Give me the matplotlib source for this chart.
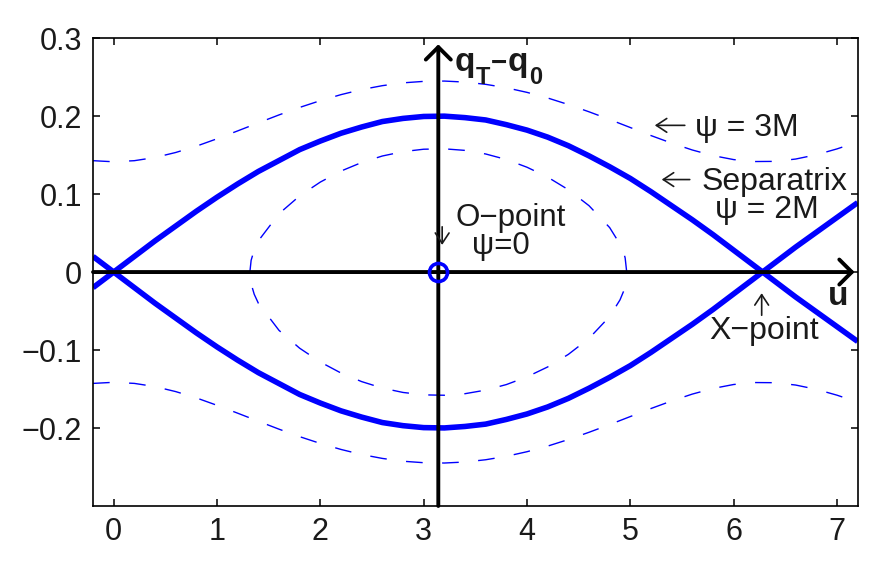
"""
Pendulum-like phase portrait: separatrix, O-point and X-point
"""

import matplotlib
matplotlib.use('Agg')
import matplotlib.pyplot as plt
import numpy as np

plt.rcParams['font.family'] = ['Liberation Sans', 'DejaVu Sans']

# ---- data ----
u_grid = [-0.2, 0.0, 0.2, 0.4, 0.6, 0.8, 1.0, 1.2, 1.4, 1.6, 1.8, 2.0,
          2.2, 2.4, 2.6, 2.8, 3.0, 3.2, 3.4, 3.6, 3.8, 4.0, 4.2, 4.4,
          4.6, 4.8, 5.0, 5.2, 5.4, 5.6, 5.8, 6.0, 6.2, 6.4, 6.6, 6.8,
          7.0, 7.2]

# separatrix (psi = 2M), upper branch; lower branch is its mirror
separatrix = [-0.020, 0.000, 0.020, 0.040, 0.059, 0.078, 0.096, 0.113,
              0.129, 0.143, 0.157, 0.168, 0.178, 0.186, 0.193, 0.197,
              0.1995, 0.1999, 0.198, 0.195, 0.189, 0.182, 0.173, 0.162,
              0.149, 0.135, 0.120, 0.103, 0.085, 0.067, 0.048, 0.028,
              0.008, -0.012, -0.032, -0.051, -0.070, -0.089]

# passing orbit (psi = 3M), upper side; lower side is its mirror
passing = [0.1428, 0.1414, 0.1428, 0.1469, 0.1533, 0.1614, 0.1709,
           0.1810, 0.1913, 0.2015, 0.2111, 0.2198, 0.2275, 0.2340,
           0.2390, 0.2426, 0.2445, 0.2449, 0.2436, 0.2407, 0.2363,
           0.2304, 0.2232, 0.2148, 0.2055, 0.1956, 0.1853, 0.1750,
           0.1653, 0.1565, 0.1493, 0.1442, 0.1417, 0.1419, 0.1449,
           0.1504, 0.1579, 0.1668]

# trapped orbit, upper half (closed curve, lower half mirrored)
u_trapped = [1.318, 1.33, 1.36, 1.4, 1.6, 1.8, 2.0, 2.2, 2.4, 2.6, 2.8,
             3.0, 3.2, 3.4, 3.6, 3.8, 4.0, 4.2, 4.4, 4.6, 4.8, 4.9,
             4.94, 4.95, 4.965]
trapped = [0.0, 0.015, 0.0285, 0.040, 0.0748, 0.0977, 0.1154, 0.1295,
           0.1405, 0.1488, 0.1544, 0.1575, 0.1580, 0.1560, 0.1514,
           0.1443, 0.1344, 0.1217, 0.1056, 0.0851, 0.0570, 0.0357,
           0.023, 0.018, 0.0]

o_point = (3.1416, 0.0)
x_point = (6.2832, 0.0)

xticks = [0, 1, 2, 3, 4, 5, 6, 7]
yticks = [-0.2, -0.1, 0, 0.1, 0.2, 0.3]
ytick_labels = ['\u22120.2', '\u22120.1', '0', '0.1', '0.2', '0.3']

# ---- figure ----
fig = plt.figure(figsize=(8.86, 5.72), dpi=100)
ax = fig.add_axes([0.105, 0.1154, 0.863, 0.818])

blue = '#0000ff'
u = np.array(u_grid)
sep = np.array(separatrix)
ax.plot(u, sep, color=blue, lw=4.0, solid_capstyle='butt')
ax.plot(u, -sep, color=blue, lw=4.0, solid_capstyle='butt')

pas = np.array(passing)
dash = (12, 14)
ax.plot(u, pas, color=blue, lw=1.0, dashes=dash)
ax.plot(u, -pas, color=blue, lw=1.0, dashes=dash)

ut = np.array(u_trapped)
tr = np.array(trapped)
ring_u = np.concatenate([ut, ut[::-1][1:]])
ring_q = np.concatenate([tr, -tr[::-1][1:]])
ax.plot(ring_u, ring_q, color=blue, lw=1.0, dashes=dash)

# coordinate arrows
head = '->,head_length=0.45,head_width=0.45'
ax.annotate('', xy=(7.17, 0), xytext=(-0.2, 0),
            arrowprops=dict(arrowstyle=head, lw=2.8, color='k',
                            shrinkA=0, shrinkB=0, mutation_scale=20))
ax.annotate('', xy=(o_point[0], 0.292), xytext=(o_point[0], -0.3),
            arrowprops=dict(arrowstyle=head, lw=2.8, color='k',
                            shrinkA=0, shrinkB=0, mutation_scale=20))

ax.plot([o_point[0]], [o_point[1]], 'o', mfc='none', mec=blue,
        ms=13, mew=2.6, zorder=5)

# axis names, q_T - q_0 built from pieces so the subscripts stay large
tc = '#1a1a1a'
ax.text(3.304, 0.2577, 'q', fontsize=24, fontweight='bold', color=tc)
ax.text(3.507, 0.2410, 'T', fontsize=17, fontweight='bold', color=tc)
ax.text(3.652, 0.2577, '\u2212', fontsize=20, fontweight='bold', color=tc)
ax.text(3.816, 0.2577, 'q', fontsize=24, fontweight='bold', color=tc)
ax.text(4.019, 0.2410, '0', fontsize=17, fontweight='bold', color=tc)
ax.text(7.01, -0.0425, 'u', fontsize=24, fontweight='bold', color=tc,
        ha='center')

# thin pointer arrows of the labels
ptr = dict(arrowstyle='->,head_length=0.5,head_width=0.33', lw=1.2,
           color=tc, shrinkA=0, shrinkB=0, mutation_scale=15)
ax.annotate('', xy=(5.237, 0.1881), xytext=(5.527, 0.1881), arrowprops=ptr)
ax.annotate('', xy=(5.304, 0.1186), xytext=(5.575, 0.1186), arrowprops=ptr)
ax.annotate('', xy=(3.179, 0.0348), xytext=(3.179, 0.058), arrowprops=ptr)
ax.annotate('', xy=(x_point[0] - 0.012, -0.0271),
            xytext=(x_point[0] - 0.012, -0.0554), arrowprops=ptr)

fs = 23
ax.text(5.623, 0.174, '\u03c8 = 3M', fontsize=fs, color=tc)
ax.text(5.691, 0.1057, 'Separatrix', fontsize=fs, color=tc)
ax.text(5.816, 0.0696, '\u03c8 = 2M', fontsize=fs, color=tc)
ax.text(3.304, 0.0593, 'O\u2212point', fontsize=22.5, color=tc)
ax.text(3.469, 0.0232, '\u03c8=0', fontsize=22.5, color=tc)
ax.text(5.768, -0.0863, 'X\u2212point', fontsize=fs, color=tc)

ax.set_xlim(-0.2, 7.2)
ax.set_ylim(-0.3, 0.3)
ax.set_xticks(xticks)
ax.set_yticks(yticks)
ax.set_yticklabels(ytick_labels)
ax.tick_params(direction='in', length=5, width=1.1, top=True, right=True,
               labelsize=22, pad=8, labelcolor=tc)
for sp in ax.spines.values():
  sp.set_linewidth(1.2)

fig.savefig('out.png', dpi=100)
